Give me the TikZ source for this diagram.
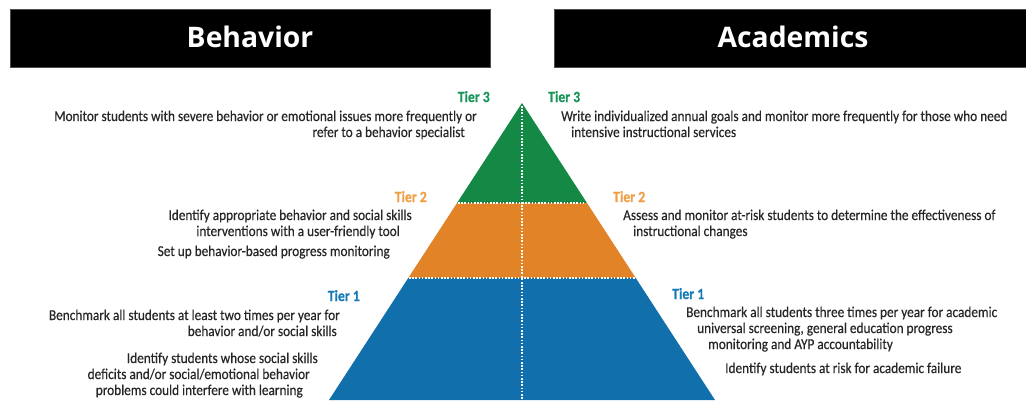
\documentclass[tikz,border=0pt]{standalone}
\usepackage{fontspec}
\setmainfont{Carlito}[FakeStretch=0.885,FakeBold=0.35]
\newfontfamily\headfont{Open Sans}
\definecolor{tgreen}{RGB}{19,137,69}
\definecolor{torange}{RGB}{226,131,40}
\definecolor{tblue}{RGB}{17,111,171}
\definecolor{lgreen}{RGB}{24,150,88}
\definecolor{lorange}{RGB}{238,158,68}
\definecolor{lblue}{RGB}{22,122,184}
\definecolor{txt}{RGB}{40,38,38}
\tikzset{
  hdrbox/.style={fill=black,draw=black!70,line width=0.6pt},
  hdrtext/.style={text=white,font=\headfont\bfseries\fontsize{28.3}{31}\selectfont,inner sep=0pt},
  lefttxt/.style={anchor=base east,inner sep=0pt,text=txt,font=\fontsize{15}{17}\selectfont},
  righttxt/.style={anchor=base west,inner sep=0pt,text=txt,font=\fontsize{15}{17}\selectfont},
  tierL/.style={anchor=base east,inner sep=0pt,font=\bfseries\fontsize{15.5}{17}\selectfont},
  tierR/.style={anchor=base west,inner sep=0pt,font=\bfseries\fontsize{15.5}{17}\selectfont},
  dotline/.style={white,line width=1.6pt,dash pattern=on 1.6pt off 1.6pt}
}
\begin{document}
\begin{tikzpicture}[x=1pt,y=-1pt]
\useasboundingbox (0,0) rectangle (1026,400);
\fill[white] (0,0) rectangle (1026,400);
\clip (0,0) rectangle (1026,400);
% headers
\draw[hdrbox] (10,9) rectangle (490,67);
\draw[hdrbox] (554,9) rectangle (1032,67);
\node[hdrtext] (hb) at (250,37) {Behavior};
\node[hdrtext] (ha) at (793,37) {Academics};
% pyramid
\fill[tgreen] (522,103) -- (587,203) -- (457,203) -- cycle;
\fill[torange] (457,203) -- (587,203) -- (635.75,278) -- (408.25,278) -- cycle;
\fill[tblue] (408.25,278) -- (635.75,278) -- (715,400) -- (329,400) -- cycle;
\draw[dotline] (458,203) -- (586,203);
\draw[dotline] (409,278) -- (635,278);
\draw[dotline] (522,106) -- (522,400);
% left column
\node[tierL,text=lgreen] (t3l) at (490,102) {Tier 3};
\node[lefttxt] (b3a) at (477,121) {Monitor students with severe behavior or emotional issues more frequently or};
\node[lefttxt] (b3b) at (465,137) {refer to a behavior specialist};
\node[tierL,text=lorange] (t2l) at (427,202) {Tier 2};
\node[lefttxt] (b2a) at (412,220) {Identify appropriate behavior and social skills};
\node[lefttxt] (b2b) at (400,236) {interventions with a user-friendly tool};
\node[lefttxt] (b2c) at (390,256) {Set up behavior-based progress monitoring};
\node[tierL,text=lblue] (t1l) at (360,301) {Tier 1};
\node[lefttxt] (b1a) at (340,320) {Benchmark all students at least two times per year for};
\node[lefttxt] (b1b) at (337,336) {behavior and/or social skills};
\node[lefttxt] (b1c) at (318,363) {Identify students whose social skills};
\node[lefttxt] (b1d) at (310,379) {deficits and/or social/emotional behavior};
\node[lefttxt] (b1e) at (303,395) {problems could interfere with learning};
% right column
\node[tierR,text=lgreen] (t3r) at (548,102) {Tier 3};
\node[righttxt] (a3a) at (561,121) {Write individualized annual goals and monitor more frequently for those who need};
\node[righttxt] (a3b) at (571,137) {intensive instructional services};
\node[tierR,text=lorange] (t2r) at (613,202) {Tier 2};
\node[righttxt] (a2a) at (623,220) {Assess and monitor at-risk students to determine the effectiveness of};
\node[righttxt] (a2b) at (633,236) {instructional changes};
\node[tierR,text=lblue] (t1r) at (672,299) {Tier 1};
\node[righttxt] (a1a) at (686,317) {Benchmark all students three times per year for academic};
\node[righttxt] (a1b) at (697,333) {universal screening, general education progress};
\node[righttxt] (a1c) at (708,349) {monitoring and AYP accountability};
\node[righttxt] (a1d) at (725,373) {Identify students at risk for academic failure};
\end{tikzpicture}
\end{document}
